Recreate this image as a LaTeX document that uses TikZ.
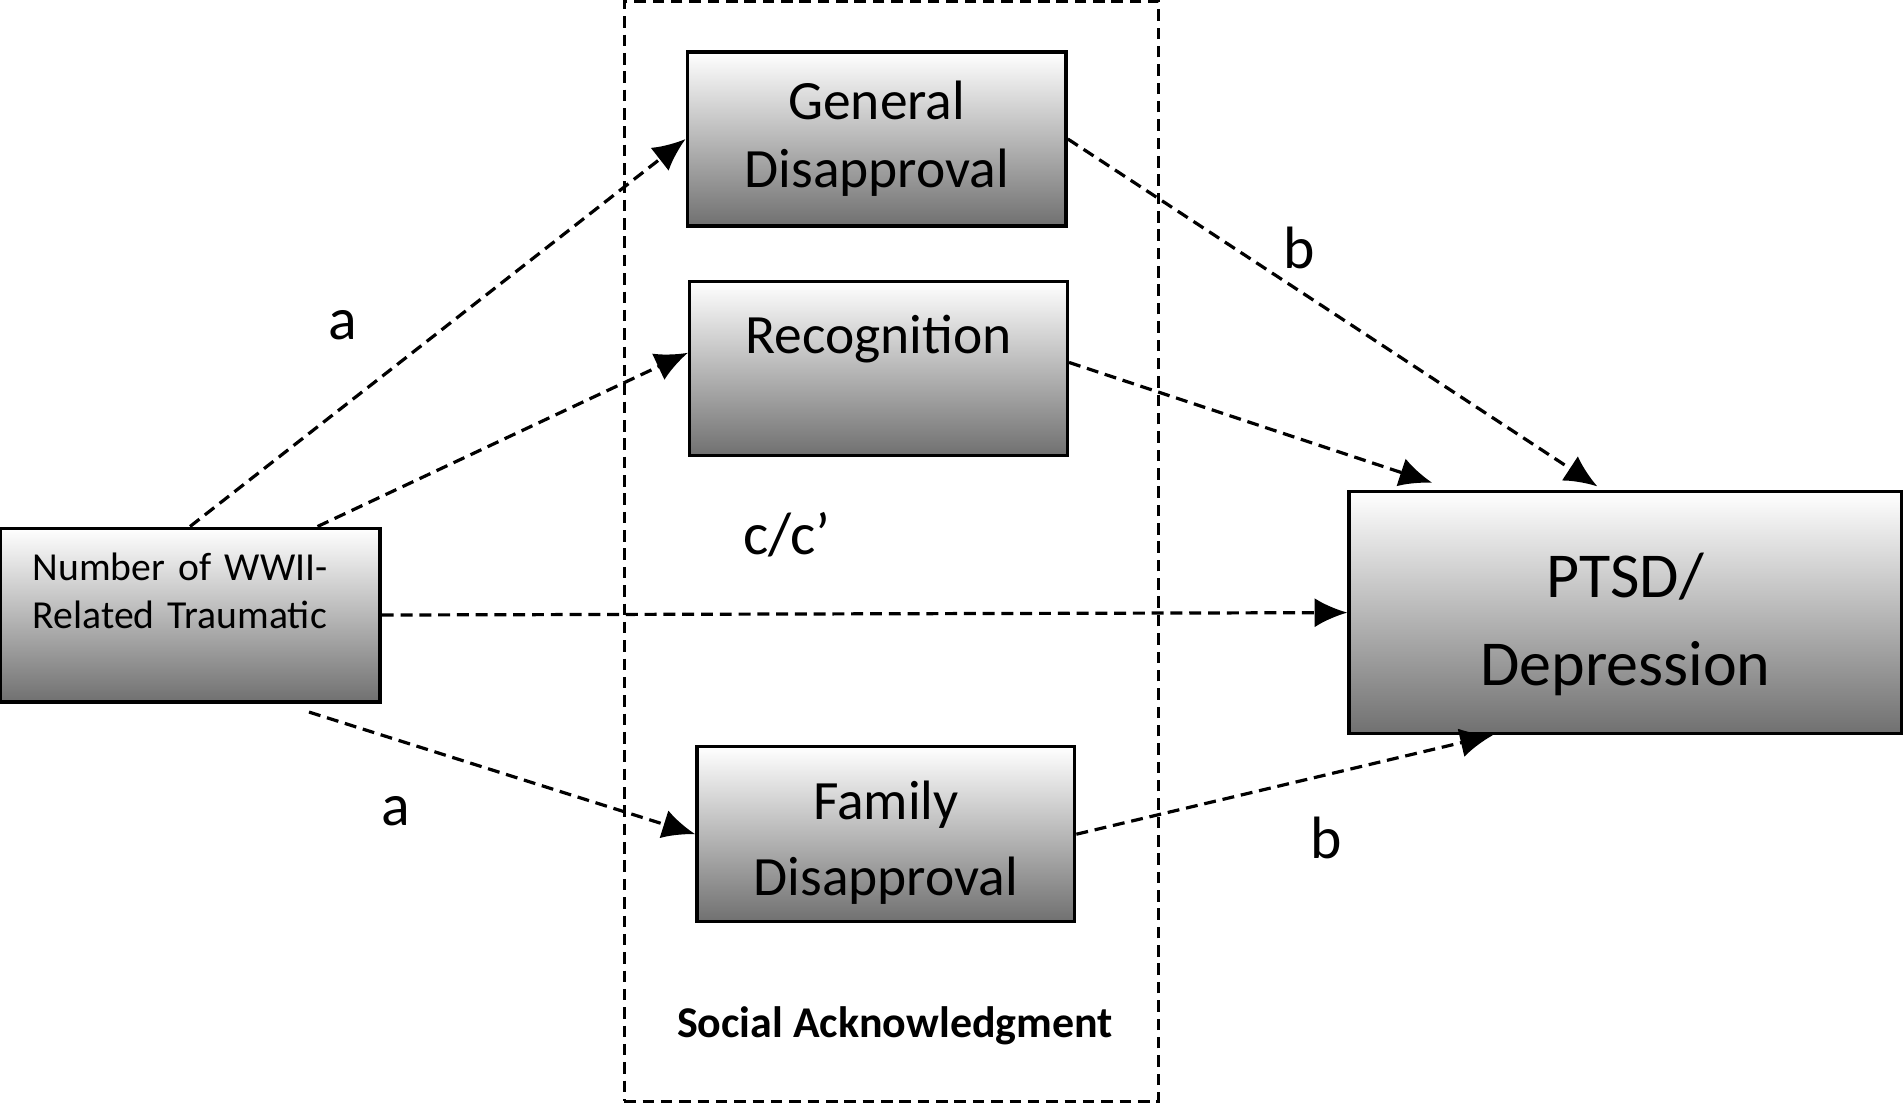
\documentclass[tikz,border=0pt]{standalone}
\usepackage{fontspec}
\setmainfont{Carlito}
\usepackage{tikz}
\usetikzlibrary{arrows.meta,positioning,calc}

\begin{document}
\begin{tikzpicture}[
    box/.style={draw, line width=0.8pt, top color=white, bottom color=black!56, align=center, inner sep=0pt},
    medbox/.style={box, minimum width=3.12cm, minimum height=1.43cm, font=\fontsize{13}{16}\selectfont},
    frame/.style={draw, dash pattern=on 2.7pt off 1.6pt, line width=0.65pt, minimum width=4.4cm, minimum height=9.06cm},
    arr/.style={-{Latex[length=2.7mm, width=2.4mm]}, dash pattern=on 2.8pt off 1.6pt, line width=0.75pt},
    lbl/.style={font=\fontsize{14}{16}\selectfont}
]
    \useasboundingbox (0,0) rectangle (15.68,9.09);

    % Social acknowledgment frame
    \node[frame] (sa) at (7.34, 4.55) {};
    \node[font=\fontsize{10.3}{12}\selectfont\bfseries] (satxt) at (7.37, 0.64) {Social Acknowledgment};

    % Boxes
    \node[box, minimum width=3.13cm, minimum height=1.43cm, text width=2.59cm, align=left,
          font=\fontsize{9.3}{11.4}\selectfont] (num) at (1.565, 4.025)
          {Number of WWII-\\Related Traumatic\\\mbox{}};
    \node[medbox] (gd) at (7.22, 7.945) {General\\Disapproval};
    \node[medbox, minimum width=3.11cm] (rec) at (7.235, 6.055) {Recognition\\\mbox{}};
    \node[medbox, minimum width=3.11cm, minimum height=1.44cm, font=\fontsize{13}{18}\selectfont] (fd) at (7.295, 2.22) {\rule{0pt}{13pt}Family\\Disapproval};
    \node[box, minimum width=4.55cm, minimum height=1.99cm, font=\fontsize{15}{20.5}\selectfont] (ptsd) at (13.385, 4.045) {\rule{0pt}{16pt}PTSD/\\Depression};

    % Paths
    \draw[arr] (num.north) -- (gd.west);
    \draw[arr] ([xshift=1.05cm]num.north) -- ([yshift=0.13cm]rec.west);
    \draw[arr] (num.east) -- (ptsd.west);
    \draw[arr] ([xshift=0.98cm, yshift=-0.07cm]num.south) -- (fd.west);
    \draw[arr] (gd.east) -- ([xshift=-0.23cm, yshift=0.03cm]ptsd.north);
    \draw[arr] ([yshift=0.05cm]rec.east) -- ([xshift=-1.59cm, yshift=0.06cm]ptsd.north);
    \draw[arr] (fd.east) -- ([xshift=-1.09cm]ptsd.south);

    % Path labels
    \node[lbl] (a1) at (2.82, 6.41) {a};
    \node[lbl] (a2) at (3.26, 2.41) {a};
    \node[lbl] (b1) at (10.70, 7.05) {b};
    \node[lbl] (b2) at (10.92, 2.19) {b};
    \node[lbl] (cc) at (6.48, 4.69) {c/c’};
\end{tikzpicture}
\end{document}
